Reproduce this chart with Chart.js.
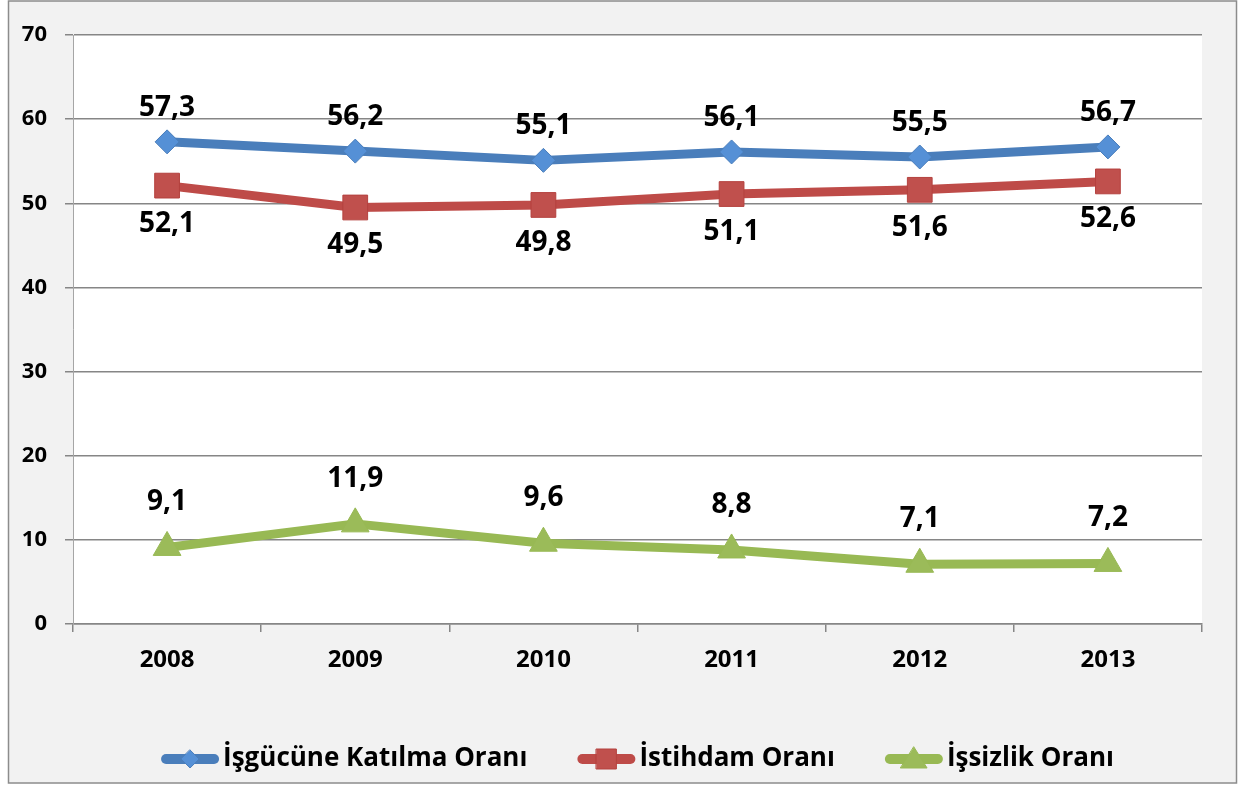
<!DOCTYPE html>
<html>
<head>
<meta charset="utf-8">
<script src="https://cdn.jsdelivr.net/npm/chart.js@4.4.1/dist/chart.umd.min.js"></script>
<style>
    html, body { margin: 0; padding: 0; background: #fff; }
    #wrapper { width: 1241px; height: 785px; }
</style>
</head>
<body>
<div id="wrapper"><canvas id="grafico" width="1241" height="785"></canvas></div>
<script>
"use strict"

// dati
const anni = ["2008", "2009", "2010", "2011", "2012", "2013"];
const katilmaOrani = [57.3, 56.2, 55.1, 56.1, 55.5, 56.7];
const istihdamOrani = [52.1, 49.5, 49.8, 51.1, 51.6, 52.6];
const issizlikOrani = [9.1, 11.9, 9.6, 8.8, 7.1, 7.2];
const etichetteSerie = ["İşgücüne Katılma Oranı", "İstihdam Oranı", "İşsizlik Oranı"];
const yMin = 0, yMax = 70, yPasso = 10;

const FONT = "'Open Sans'";
const GRIGIO = "#868686";

function formatta(v) {
    return v.toFixed(1).replace(".", ",");
}

function disegnaMarker(ctx, stile, x, y, r, riempimento, bordo) {
    ctx.beginPath();
    if (stile === "rectRot") {
        ctx.moveTo(x, y - r);
        ctx.lineTo(x + r, y);
        ctx.lineTo(x, y + r);
        ctx.lineTo(x - r, y);
    } else if (stile === "rect") {
        ctx.rect(x - r, y - r, 2 * r, 2 * r);
    } else {
        ctx.moveTo(x, y - r);
        ctx.lineTo(x + r * 1.1, y + r * 0.75);
        ctx.lineTo(x - r * 1.1, y + r * 0.75);
    }
    ctx.closePath();
    ctx.fillStyle = riempimento;
    ctx.fill();
    ctx.lineWidth = 1;
    ctx.strokeStyle = bordo;
    ctx.stroke();
}

// sfondo grigio con bordo e area del grafico bianca
const sfondo = {
    id: "sfondo",
    beforeDraw(chart) {
        const ctx = chart.ctx;
        const a = chart.chartArea;
        ctx.save();
        ctx.fillStyle = "#ffffff";
        ctx.fillRect(0, 0, chart.width, chart.height);
        ctx.fillStyle = "#f2f2f2";
        ctx.fillRect(8.5, 1, 1228, 782);
        ctx.strokeStyle = "#8c8c8c";
        ctx.lineWidth = 1.5;
        ctx.strokeRect(8.5, 1, 1228, 782);
        ctx.fillStyle = "#ffffff";
        ctx.fillRect(a.left, a.top, a.right - a.left, a.bottom - a.top);
        ctx.restore();
    }
};

// etichette dei valori sopra / sotto i punti
const etichette = {
    id: "etichette",
    afterDatasetsDraw(chart) {
        const ctx = chart.ctx;
        ctx.save();
        ctx.font = "bold 28px " + FONT;
        ctx.fillStyle = "#000";
        ctx.textAlign = "center";
        ctx.textBaseline = "middle";
        chart.data.datasets.forEach(function (ds, i) {
            const meta = chart.getDatasetMeta(i);
            meta.data.forEach(function (p, j) {
                ctx.fillText(formatta(ds.data[j]), p.x, p.y + ds.scostamento);
            });
        });
        ctx.restore();
    }
};

// legenda in stile excel: linea + marker
const legenda = {
    id: "legenda",
    afterDraw(chart) {
        const ctx = chart.ctx;
        const a = chart.chartArea;
        const larghIcona = 58, spazio = 4, distanza = 50;
        ctx.save();
        ctx.font = "bold 26px " + FONT;
        let totale = 0;
        const larghezze = chart.data.datasets.map(function (ds) {
            return ctx.measureText(ds.label).width;
        });
        larghezze.forEach(function (w) { totale += larghIcona + spazio + w; });
        totale += distanza * (larghezze.length - 1);
        let x = (a.left + a.right) / 2 - totale / 2;
        const y = 759;
        chart.data.datasets.forEach(function (ds, i) {
            ctx.beginPath();
            ctx.moveTo(x + 5, y);
            ctx.lineTo(x + larghIcona - 5, y);
            ctx.lineWidth = 10;
            ctx.lineCap = "round";
            ctx.strokeStyle = ds.borderColor;
            ctx.stroke();
            disegnaMarker(ctx, ds.pointStyle, x + larghIcona / 2, y, ds.raggioLegenda, ds.pointBackgroundColor, ds.pointBorderColor);
            ctx.fillStyle = "#000";
            ctx.textAlign = "left";
            ctx.textBaseline = "middle";
            ctx.fillText(ds.label, x + larghIcona + spazio, y);
            x += larghIcona + spazio + larghezze[i] + distanza;
        });
        ctx.restore();
    }
};

const canvas = document.getElementById("grafico");

let chart = new Chart(canvas, {
    type: "line",
    data: {
        labels: anni,
        datasets: [
            {
                label: etichetteSerie[0],
                data: katilmaOrani,
                borderColor: "#4a7ebb",
                pointBackgroundColor: "#5590d6",
                pointBorderColor: "#4a7ebb",
                pointStyle: "rectRot",
                pointRadius: 12,
                scostamento: -34,
                raggioLegenda: 9
            },
            {
                label: etichetteSerie[1],
                data: istihdamOrani,
                borderColor: "#be4b48",
                pointBackgroundColor: "#c0504d",
                pointBorderColor: "#b4413e",
                pointStyle: "rect",
                pointRadius: 17.5,
                scostamento: 38,
                raggioLegenda: 10
            },
            {
                label: etichetteSerie[2],
                data: issizlikOrani,
                borderColor: "#98b954",
                pointBackgroundColor: "#9bbb59",
                pointBorderColor: "#98b954",
                pointStyle: "triangle",
                pointRadius: 16,
                scostamento: -45,
                raggioLegenda: 12
            }
        ]
    },
    options: {
        responsive: false,
        animation: false,
        devicePixelRatio: 1,
        layout: { padding: { left: 8, right: 39, top: 35, bottom: 101 } },
        elements: {
            line: { borderWidth: 9, tension: 0, borderJoinStyle: "round", borderCapStyle: "round" },
            point: { borderWidth: 1, hoverRadius: 12 }
        },
        plugins: {
            legend: { display: false },
            tooltip: { enabled: false }
        },
        scales: {
            x: {
                offset: true,
                grid: { display: true, offset: true, drawOnChartArea: false, color: GRIGIO, lineWidth: 1.5, tickLength: 8 },
                border: { display: true, color: GRIGIO, width: 1.5 },
                ticks: { color: "#000", font: { family: FONT, size: 24, weight: "bold" }, padding: 14, maxRotation: 0 },
                afterFit: function (scale) { scale.height = 60; }
            },
            y: {
                min: yMin,
                max: yMax,
                ticks: { stepSize: yPasso, color: "#000", font: { family: FONT, size: 22, weight: "bold" }, padding: 18 },
                grid: { color: GRIGIO, lineWidth: 1.5, tickLength: 8 },
                border: { display: true, color: "#a6a6a6", width: 1 },
                afterFit: function (scale) { scale.width = 65; }
            }
        }
    },
    plugins: [sfondo, etichette, legenda]
});
</script>
</body>
</html>
